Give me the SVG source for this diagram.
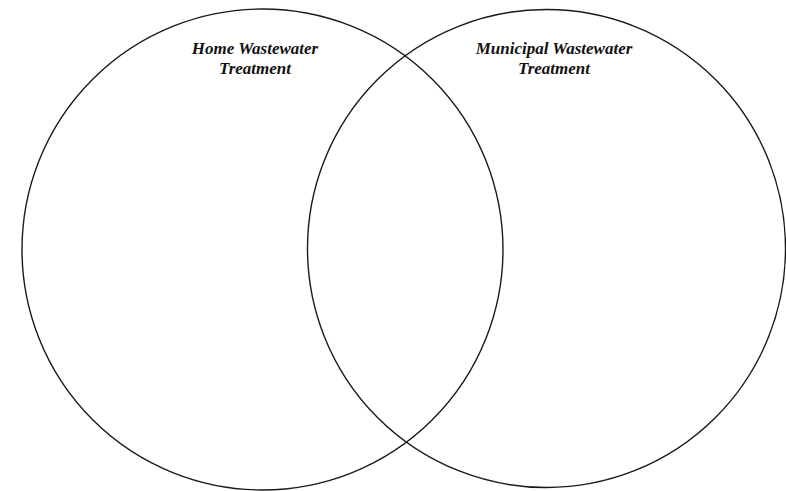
<svg xmlns="http://www.w3.org/2000/svg" width="786" height="491" viewBox="0 0 786 491">
<style>
.c{fill:none;stroke:#1a1a1a;stroke-width:1.4}
.t{font-family:"Liberation Serif","Times New Roman",serif;font-weight:bold;font-style:italic;font-size:17px;fill:#111;text-anchor:middle}
</style>
<rect width="786" height="491" fill="#fff"/>
<g id="home">
<circle class="c" cx="262.5" cy="249.5" r="240.5"/>
<text class="t" x="255" y="54">Home Wastewater</text>
<text class="t" x="255" y="74">Treatment</text>
</g>
<g id="municipal">
<circle class="c" cx="546.5" cy="248.5" r="239"/>
<text class="t" x="554" y="54">Municipal Wastewater</text>
<text class="t" x="554" y="74">Treatment</text>
</g>
<g id="connectors"></g>
</svg>
